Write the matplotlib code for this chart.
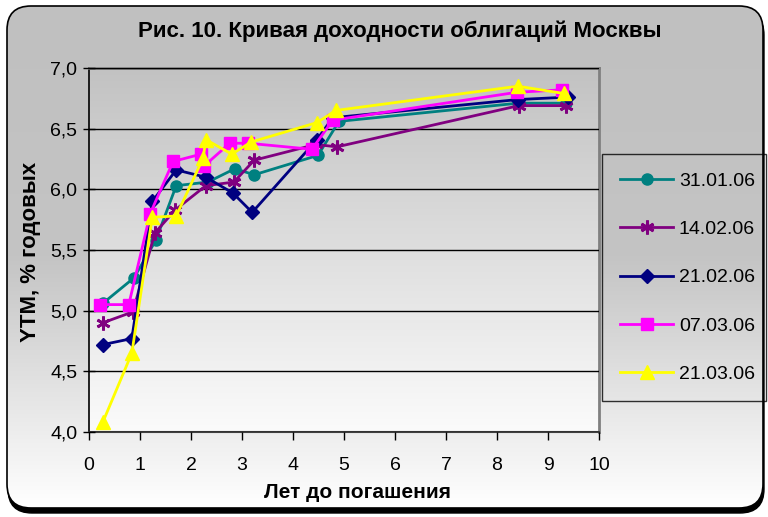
import matplotlib
matplotlib.use('Agg')
import matplotlib.pyplot as plt
import numpy as np
from matplotlib.patches import FancyBboxPatch
from matplotlib.colors import LinearSegmentedColormap
from matplotlib.ticker import FuncFormatter, MultipleLocator

# ---- data ----
title = "Рис. 10. Кривая доходности облигаций Москвы"
xlabel = "Лет до погашения"
ylabel = "YTM, % годовых"
labels = ["31.01.06", "14.02.06", "21.02.06", "07.03.06", "21.03.06"]

x_3101 = [0.27, 0.88, 1.31, 1.71, 2.33, 2.86, 3.24, 4.49, 4.90, 8.41, 9.35]
y_3101 = [5.06, 5.27, 5.58, 6.03, 6.06, 6.17, 6.12, 6.28, 6.56, 6.71, 6.71]

x_1402 = [0.27, 0.86, 1.29, 1.69, 2.29, 2.84, 3.24, 4.45, 4.86, 8.43, 9.35]
y_1402 = [4.90, 4.99, 5.64, 5.83, 6.03, 6.06, 6.24, 6.37, 6.35, 6.69, 6.69]

x_2102 = [0.27, 0.84, 1.24, 1.71, 2.29, 2.82, 3.20, 4.47, 4.78, 8.41, 9.39]
y_2102 = [4.72, 4.77, 5.90, 6.16, 6.10, 5.97, 5.81, 6.41, 6.59, 6.74, 6.76]

x_0703 = [0.22, 0.78, 1.20, 1.65, 2.20, 2.25, 2.76, 3.12, 4.37, 4.78, 8.39, 9.27]
y_0703 = [5.05, 5.05, 5.80, 6.23, 6.29, 6.19, 6.38, 6.38, 6.33, 6.57, 6.80, 6.82]

x_2103 = [0.27, 0.84, 1.24, 1.71, 2.24, 2.29, 2.80, 3.18, 4.47, 4.84, 8.41, 9.31]
y_2103 = [4.08, 4.65, 5.77, 5.78, 6.26, 6.41, 6.29, 6.39, 6.55, 6.65, 6.85, 6.79]

xs = [x_3101, x_1402, x_2102, x_0703, x_2103]
ys = [y_3101, y_1402, y_2102, y_0703, y_2103]

colors = ["#008080", "#800080", "#000080", "#FF00FF", "#FFFF00"]
markers = ["o", (6, 2, 0), "D", "s", "^"]
msizes = [8, 10, 7, 8, 10]

narrow = ['Liberation Sans Narrow', 'Liberation Sans', 'DejaVu Sans']
regular = ['Liberation Sans', 'DejaVu Sans']

W, H = 768, 517
fig = plt.figure(figsize=(W / 100, H / 100), dpi=100)
fig.patch.set_facecolor('white')

# ---- background with rounded border ----
bg = fig.add_axes([0, 0, 1, 1], zorder=-10)
bg.set_xlim(0, W)
bg.set_ylim(H, 0)
bg.axis('off')
shadow = FancyBboxPatch((8, 11), 756, 502, boxstyle='round,pad=0,rounding_size=24',
                        fc='black', ec='black', lw=1)
bg.add_patch(shadow)
box = FancyBboxPatch((7, 6), 756, 502, boxstyle='round,pad=0,rounding_size=24',
                     fc='white', ec='none')
bg.add_patch(box)
cmap_bg = LinearSegmentedColormap.from_list('g', ['#c0c0c0', '#c4c4c4', '#ffffff'])
grad = np.linspace(0, 1, 256).reshape(-1, 1)
im = bg.imshow(grad, extent=(7, 763, 508, 6), aspect='auto', cmap=cmap_bg, zorder=1)
im.set_clip_path(box)
border = FancyBboxPatch((7, 6), 756, 502, boxstyle='round,pad=0,rounding_size=24',
                        fc='none', ec='black', lw=1.2, zorder=2)
bg.add_patch(border)

# ---- plot axes ----
ax = fig.add_axes([89 / W, 1 - 432 / H, 510 / W, 364 / H])
cmap_ax = LinearSegmentedColormap.from_list('a', ['#c2c2c2', '#fbfbfb'])
ax.imshow(grad, extent=(0, 10, 4, 7), aspect='auto', cmap=cmap_ax, zorder=0)
ax.set_xlim(0, 10)
ax.set_ylim(4, 7)
ax.yaxis.set_major_locator(MultipleLocator(0.5))
ax.xaxis.set_major_locator(MultipleLocator(1))
ax.yaxis.set_major_formatter(FuncFormatter(lambda v, p: f"{v:.1f}".replace('.', ',')))
ax.grid(axis='y', color='black', lw=1.0, zorder=1)
ax.set_axisbelow(False)
for s in ['top', 'right']:
    ax.spines[s].set_color('#808080')
    ax.spines[s].set_linewidth(2)
ax.spines['left'].set_color('black')
ax.spines['left'].set_linewidth(1.2)
ax.spines['bottom'].set_color('#404040')
ax.spines['bottom'].set_linewidth(1.5)
ax.tick_params(axis='y', direction='inout', length=9, width=1, labelsize=14, pad=4)
ax.tick_params(axis='x', direction='out', length=6, width=1, labelsize=14, pad=12)
for t in ax.get_yticklabels():
    t.set_fontfamily(regular)
for t in ax.get_xticklabels():
    t.set_fontfamily(narrow)

handles = []
for x, y, c, m, ms, lab in zip(xs, ys, colors, markers, msizes, labels):
    h, = ax.plot(x, y, color=c, lw=2, marker=m, ms=ms, mfc=c, mec=c,
                 mew=2 if isinstance(m, tuple) else 1, label=lab, zorder=3, clip_on=False)
    handles.append(h)

leg = fig.legend(handles=handles, labels=labels, loc='center',
                 bbox_to_anchor=(602 / W, 1 - 402 / H, 164 / W, 249 / H),
                 bbox_transform=fig.transFigure, mode='expand', borderaxespad=0,
                 prop={'family': regular, 'size': 14}, numpoints=1,
                 handlelength=2.7, labelspacing=1.58, borderpad=0.95,
                 fancybox=False, frameon=True, handletextpad=0.3)
leg.get_frame().set_facecolor('none')
leg.get_frame().set_edgecolor('black')
leg.get_frame().set_linewidth(1)

fig.text(400 / W, 1 - 31 / H, title, ha='center', va='center', fontsize=16,
         fontweight='bold', family=narrow)
fig.text(357 / W, 1 - 492 / H, xlabel, ha='center', va='center', fontsize=15,
         fontweight='bold', family=narrow)
fig.text(31 / W, 1 - 252 / H, ylabel, ha='center', va='center', fontsize=16,
         fontweight='bold', family=regular, rotation=90)

fig.savefig('out.png', dpi=100)
